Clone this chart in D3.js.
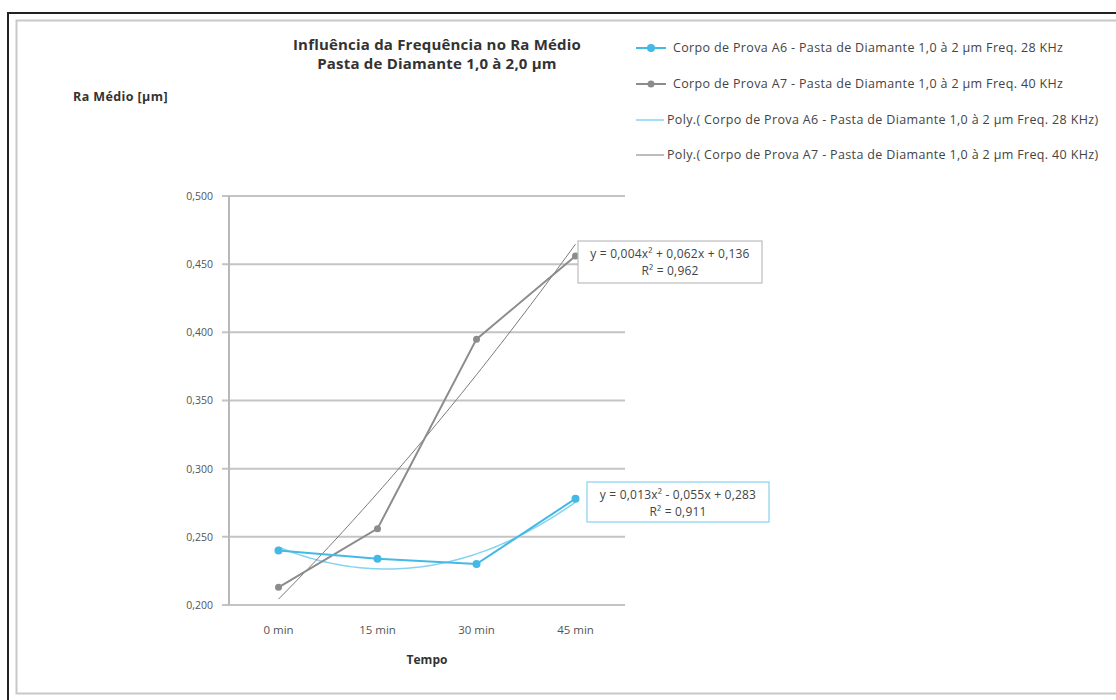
<!DOCTYPE html>
<html>
<head>
<meta charset="utf-8">
<script src="https://cdn.jsdelivr.net/npm/d3@7"></script>
<style>
  html, body { margin: 0; padding: 0; background: #fff; }
  svg { display: block; font-family: "Open Sans", Lato, sans-serif; }
</style>
</head>
<body>
<svg id="chart" width="1116" height="700"></svg>
<script>
// Categories and measured values (Ra médio, µm)
const categories = ["0 min", "15 min", "30 min", "45 min"];
const seriesA6 = [0.240, 0.234, 0.230, 0.278];
const seriesA7 = [0.213, 0.256, 0.395, 0.456];
const yTicks = [0.200, 0.250, 0.300, 0.350, 0.400, 0.450, 0.500];

const legendLabels = [
  "Corpo de Prova A6 - Pasta de Diamante 1,0 à 2 µm Freq. 28 KHz",
  "Corpo de Prova A7 - Pasta de Diamante 1,0 à 2 µm Freq. 40 KHz",
  "Poly.( Corpo de Prova A6 - Pasta de Diamante 1,0 à 2 µm Freq. 28 KHz)",
  "Poly.( Corpo de Prova A7 - Pasta de Diamante 1,0 à 2 µm Freq. 40 KHz)"
];
const eqA6 = ["y = 0,013x² - 0,055x + 0,283", "R² = 0,911"];
const eqA7 = ["y = 0,004x² + 0,062x + 0,136", "R² = 0,962"];
const titleLines = ["Influência da Frequência no Ra Médio", "Pasta de Diamante 1,0 à 2,0 µm"];

const blue = "#44b9e6", blueLight = "#86d3f0", grayDark = "#8c8c8c", grayTrend = "#7a7a7a";
const textCol = "#444";

const svg = d3.select("#chart");
const fmt = v => d3.format(".3f")(v).replace(".", ",");

// frame
svg.append("rect").attr("x", 8).attr("y", 13).attr("width", 1120).attr("height", 700)
  .attr("fill", "none").attr("stroke", "#222").attr("stroke-width", 2);
svg.append("rect").attr("x", 16.5).attr("y", 20.5).attr("width", 1110).attr("height", 673)
  .attr("fill", "none").attr("stroke", "#c8c8c8").attr("stroke-width", 2);

const plot = { left: 229, right: 625, top: 196, bottom: 605 };

const x = d3.scaleBand().domain(categories).range([plot.left, plot.right]).paddingInner(0).paddingOuter(0);
const cx = c => x(c) + x.bandwidth() / 2;
const y = d3.scaleLinear().domain([0.2, 0.5]).range([plot.bottom, plot.top]);
// continuous x for trend curves (x = 1..n as in a spreadsheet trendline)
const xt = d3.scaleLinear().domain([1, categories.length]).range([cx(categories[0]), cx(categories[categories.length - 1])]);

// gridlines
svg.append("g").selectAll("line").data(yTicks).join("line")
  .attr("x1", plot.left - 7).attr("x2", plot.right)
  .attr("y1", d => y(d)).attr("y2", d => y(d))
  .attr("stroke", "#c4c4c4").attr("stroke-width", 2);

// y axis line
svg.append("line").attr("x1", plot.left).attr("x2", plot.left)
  .attr("y1", plot.top).attr("y2", plot.bottom)
  .attr("stroke", "#b8b8b8").attr("stroke-width", 2);

// y tick labels via axis
const yAxis = svg.append("g").attr("transform", `translate(${plot.left},0)`)
  .call(d3.axisLeft(y).tickValues(yTicks).tickFormat(fmt).tickSize(0).tickPadding(16));
yAxis.select(".domain").remove();
yAxis.selectAll("text").attr("font-size", 10.5).attr("fill", "#555").attr("font-family", "'Open Sans', sans-serif");

// x tick labels
const xAxis = svg.append("g").attr("transform", `translate(0,${plot.bottom})`)
  .call(d3.axisBottom(x).tickSize(0).tickPadding(21));
xAxis.select(".domain").remove();
xAxis.selectAll("text").attr("font-size", 11.5).attr("fill", "#555").attr("font-family", "'Open Sans', sans-serif");

// axis titles
svg.append("text").attr("x", (plot.left + plot.right) / 2).attr("y", 664)
  .attr("text-anchor", "middle").attr("font-size", 12).attr("font-weight", "bold").attr("fill", "#333")
  .text("Tempo");
svg.append("text").attr("x", 73).attr("y", 101)
  .attr("font-size", 12.5).attr("letter-spacing", 0.4).attr("font-weight", "bold").attr("fill", "#333")
  .text("Ra Médio [µm]");

// title
svg.append("g").selectAll("text").data(titleLines).join("text")
  .attr("x", 437).attr("y", (d, i) => 50 + i * 19)
  .attr("text-anchor", "middle").attr("font-size", 15).attr("letter-spacing", 0.2)
  .attr("font-weight", "bold").attr("fill", "#333")
  .text(d => d);

// least-squares quadratic fit, returns [c0, c1, c2]
function polyfit2(vals) {
  const xs = vals.map((_, i) => i + 1);
  const S = k => d3.sum(xs, v => Math.pow(v, k));
  const T = k => d3.sum(xs, (v, i) => Math.pow(v, k) * vals[i]);
  const A = [[S(0), S(1), S(2)], [S(1), S(2), S(3)], [S(2), S(3), S(4)]];
  const b = [T(0), T(1), T(2)];
  for (let i = 0; i < 3; i++) {
    for (let j = i + 1; j < 3; j++) {
      const f = A[j][i] / A[i][i];
      for (let k = i; k < 3; k++) A[j][k] -= f * A[i][k];
      b[j] -= f * b[i];
    }
  }
  const c = [0, 0, 0];
  for (let i = 2; i >= 0; i--) {
    let s = b[i];
    for (let k = i + 1; k < 3; k++) s -= A[i][k] * c[k];
    c[i] = s / A[i][i];
  }
  return c;
}

function trendPoints(vals) {
  const c = polyfit2(vals);
  return d3.range(1, vals.length + 0.001, 0.05).map(t => [t, c[0] + c[1] * t + c[2] * t * t]);
}

const trendLine = d3.line().x(d => xt(d[0])).y(d => y(d[1]));
const dataLine = d3.line().x((d, i) => cx(categories[i])).y(d => y(d));

// trendlines
svg.append("path").datum(trendPoints(seriesA6)).attr("d", trendLine)
  .attr("fill", "none").attr("stroke", blueLight).attr("stroke-width", 1.5);
svg.append("path").datum(trendPoints(seriesA7)).attr("d", trendLine)
  .attr("fill", "none").attr("stroke", grayTrend).attr("stroke-width", 1);

// data series
svg.append("path").datum(seriesA7).attr("d", dataLine)
  .attr("fill", "none").attr("stroke", grayDark).attr("stroke-width", 2);
svg.append("g").selectAll("circle").data(seriesA7).join("circle")
  .attr("cx", (d, i) => cx(categories[i])).attr("cy", d => y(d)).attr("r", 3.5).attr("fill", grayDark);

svg.append("path").datum(seriesA6).attr("d", dataLine)
  .attr("fill", "none").attr("stroke", blue).attr("stroke-width", 2);
svg.append("g").selectAll("circle").data(seriesA6).join("circle")
  .attr("cx", (d, i) => cx(categories[i])).attr("cy", d => y(d)).attr("r", 4).attr("fill", blue);

// equation boxes
function eqBox(lines, bx, by, w, h, stroke) {
  const g = svg.append("g");
  g.append("rect").attr("x", bx).attr("y", by).attr("width", w).attr("height", h)
    .attr("fill", "#fff").attr("stroke", stroke).attr("stroke-width", 1.2);
  g.selectAll("text").data(lines).join("text")
    .attr("x", bx + w / 2).attr("y", (d, i) => by + 17 + i * 17)
    .attr("text-anchor", "middle").attr("font-size", 12).attr("letter-spacing", 0.2).attr("fill", textCol)
    .text(d => d);
}
eqBox(eqA7, 578, 241, 184, 42, "#bdbdbd");
eqBox(eqA6, 587, 482, 182, 40, blueLight);

// legend
const legend = svg.append("g");
const rowsY = [48, 84, 120, 155];
const styles = [
  { color: blue, w: 2, marker: 4 },
  { color: grayDark, w: 2, marker: 3.5 },
  { color: blueLight, w: 1.5, marker: 0 },
  { color: grayTrend, w: 1, marker: 0 }
];
legendLabels.forEach((lab, i) => {
  const yy = rowsY[i];
  const st = styles[i];
  const x2 = st.marker ? 666 : 664;
  legend.append("line").attr("x1", 636).attr("x2", x2).attr("y1", yy).attr("y2", yy)
    .attr("stroke", st.color).attr("stroke-width", st.w);
  if (st.marker) legend.append("circle").attr("cx", 651).attr("cy", yy).attr("r", st.marker).attr("fill", st.color);
  legend.append("text").attr("x", st.marker ? 673 : 667).attr("y", yy + 4)
    .attr("font-size", 12.5).attr("letter-spacing", 0.35).attr("fill", textCol).text(lab);
});
</script>
</body>
</html>
